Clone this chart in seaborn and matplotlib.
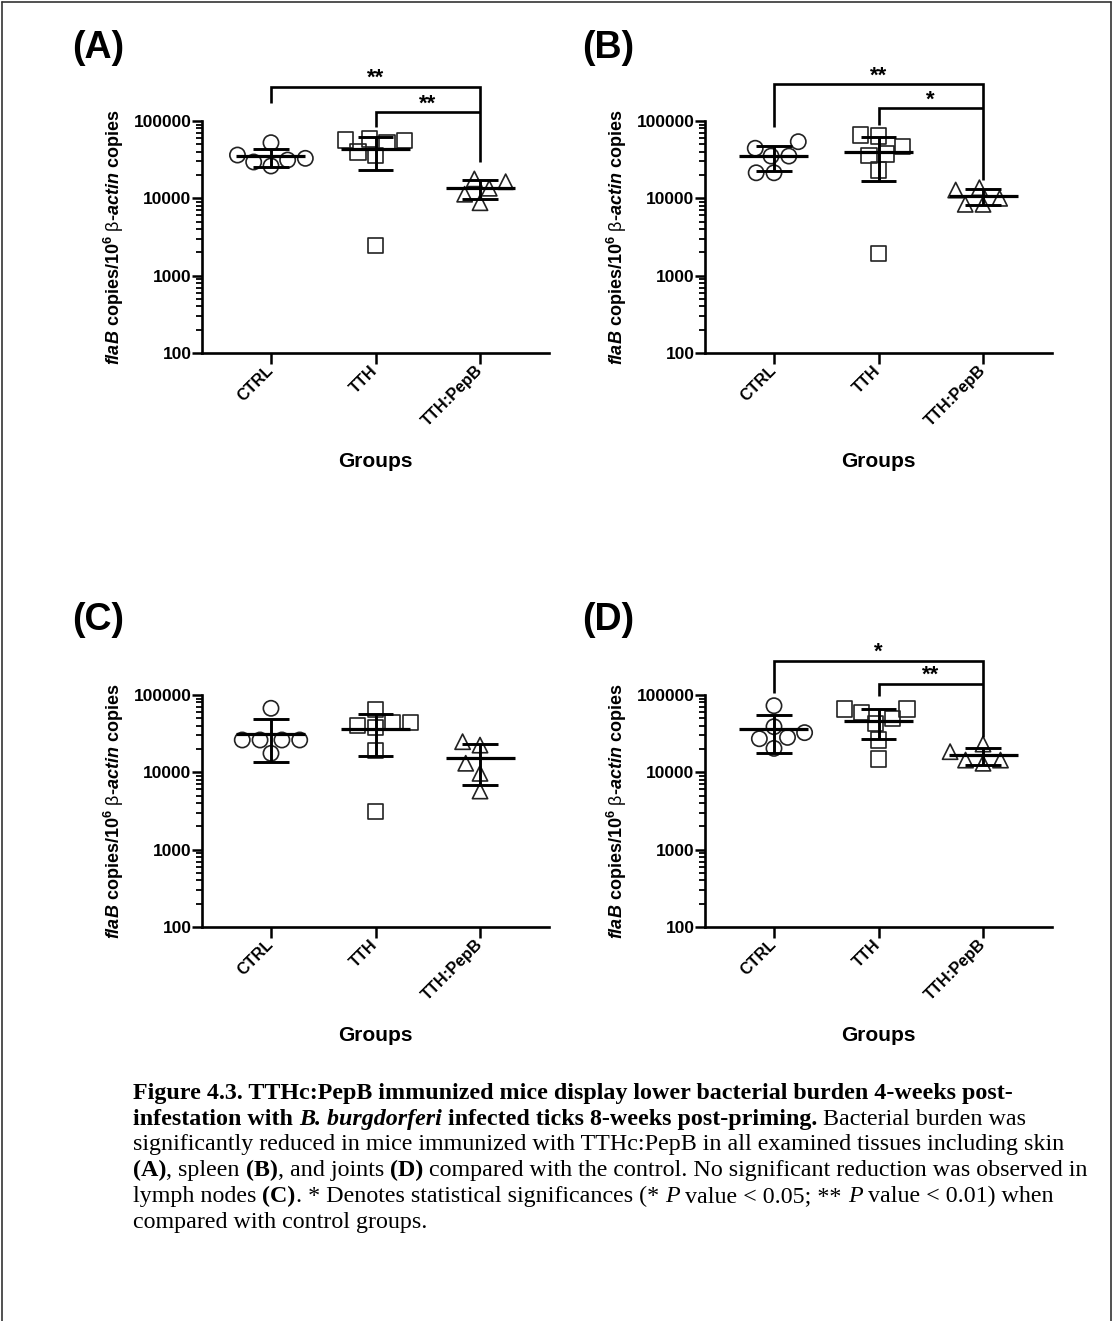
import numpy as np
import pandas as pd
import matplotlib
matplotlib.use("Agg")
import matplotlib.pyplot as plt
import seaborn as sns
from matplotlib.lines import Line2D
from matplotlib.ticker import LogLocator, FixedLocator, FixedFormatter, NullFormatter

# ---------------- data ----------------
groups = ["CTRL", "TTH", "TTH:PepB"]

# Panel A (skin)
a_ctrl = [52400, 36300, 31300, 26200, 29500, 32900]
a_tth = [55600, 58500, 56800, 52400, 39700, 35600, 2440]
a_pepb = [13500, 17800, 16400, 8770, 11300]
# Panel B (spleen)
b_ctrl = [54000, 35200, 44400, 35200, 21400, 21400]
b_tth = [65900, 64000, 46600, 35600, 37400, 23200, 1940]
b_pepb = [13700, 12800, 10000, 8360, 8360]
# Panel C (lymph nodes)
c_ctrl = [67300, 26200, 26200, 26200, 26200, 17600]
c_tth = [65300, 44300, 37800, 40100, 44300, 19000, 3100]
c_pepb = [22500, 24900, 13100, 9700, 5730]
# Panel D (joints)
d_ctrl = [72700, 38900, 28300, 27200, 32600, 20400]
d_tth = [65900, 65900, 59700, 49900, 43000, 26200, 14900]
d_pepb = [23200, 18500, 14400, 13100, 14400]

panel_letters = ["(A)", "(B)", "(C)", "(D)"]
sig_top = ["**", "**", None, "*"]      # CTRL vs TTH:PepB
sig_mid = ["**", "*", None, "**"]      # TTH vs TTH:PepB
y_tick_values = [100, 1000, 10000, 100000]
y_tick_labels = ["100", "1000", "10000", "100000"]
x_label = "Groups"

# ---------------- style ----------------
sns.set_style("ticks")
plt.rcParams["font.family"] = ["Liberation Sans", "DejaVu Sans"]
plt.rcParams["mathtext.fontset"] = "custom"
plt.rcParams["mathtext.it"] = "Liberation Sans:italic:bold"
plt.rcParams["mathtext.rm"] = "Liberation Sans"
plt.rcParams["mathtext.bf"] = "Liberation Sans:bold"
for key in ("text.color", "axes.labelcolor", "xtick.color", "ytick.color",
            "axes.edgecolor"):
    plt.rcParams[key] = "black"

W, H = 1114, 1321
fig = plt.figure(figsize=(W / 100, H / 100), dpi=100)
fig.patch.set_facecolor("white")

markers = ["o", "s", "^"]
ax_w = 347 / W
ax_h = 232 / H
positions = [(202, 353), (705, 353), (202, 927), (705, 927)]
letter_pos = [(72, 48), (582, 48), (72, 620), (582, 620)]
panels = [
    [a_ctrl, a_tth, a_pepb],
    [b_ctrl, b_tth, b_pepb],
    [c_ctrl, c_tth, c_pepb],
    [d_ctrl, d_tth, d_pepb],
]
# bracket geometry (axes-fraction y): top bar, left drop, right drop, mid bar, mid drop
brackets = [
    (1.147, 1.078, 0.823, 1.0375, 0.975),
    (1.158, 0.975, 0.746, 1.055, 0.983),
    None,
    (1.147, 1.007, 0.820, 1.049, 0.996),
]

ylab = (r"$\mathit{flaB}$ copies/$\mathbf{10}^{\mathbf{6}}$ "
        r"$\mathrm{\beta}$-$\mathit{actin}$ copies")

for p, (series, (lx, by)) in enumerate(zip(panels, positions)):
    ax = fig.add_axes([lx / W, 1 - by / H, ax_w, ax_h])
    for i, (vals, m) in enumerate(zip(series, markers)):
        df = pd.DataFrame({"group": [groups[i]] * len(vals), "value": vals})
        sns.swarmplot(data=df, x="group", y="value", order=groups, marker=m,
                      size=11, color="white", edgecolor="#222222", linewidth=1.2,
                      log_scale=True, ax=ax, zorder=2)
    for coll in ax.collections:
        coll.set_facecolor("none")
    # mean +/- SD
    for i, vals in enumerate(series):
        v = np.asarray(vals, dtype=float)
        mu = v.mean()
        sd = v.std(ddof=1)
        ax.hlines(mu, i - 0.33, i + 0.33, color="black", lw=2.3, zorder=3)
        ax.vlines(i, mu - sd, mu + sd, color="black", lw=2.1, zorder=3)
        ax.hlines([mu - sd, mu + sd], i - 0.17, i + 0.17, color="black", lw=2.1, zorder=3)

    ax.set_yscale("log")
    ax.set_ylim(100, 100000)
    ax.set_xlim(-0.66, 2.66)
    ax.yaxis.set_major_locator(FixedLocator(y_tick_values))
    ax.yaxis.set_major_formatter(FixedFormatter(y_tick_labels))
    ax.yaxis.set_minor_locator(LogLocator(base=10, subs=np.arange(2, 10)))
    ax.yaxis.set_minor_formatter(NullFormatter())
    ax.set_xticks([0, 1, 2])
    ax.set_xticklabels(groups, rotation=45, ha="right", va="center",
                       rotation_mode="anchor", fontweight="bold", fontsize=11.8)
    for lab in ax.get_yticklabels():
        lab.set_fontweight("bold")
        lab.set_fontsize(12.5)
    ax.tick_params(axis="both", which="major", direction="out", length=7, width=1.8,
                   color="black", labelcolor="black")
    ax.tick_params(axis="y", which="major", pad=0.5)
    ax.tick_params(axis="y", which="minor", direction="out", length=4, width=1.3,
                   color="black")
    ax.tick_params(axis="x", which="major", length=8, pad=3)
    sns.despine(ax=ax)
    for s in ("left", "bottom"):
        ax.spines[s].set_linewidth(1.9)
        ax.spines[s].set_color("black")
    ax.set_facecolor("none")

    ax.set_xlabel(x_label, fontsize=15, fontweight="bold", color="black")
    ax.xaxis.set_label_coords(0.5, -0.427)
    ax.set_ylabel(ylab, fontsize=13, fontweight="bold", color="black")
    ax.yaxis.set_label_coords(-0.22, 0.5)

    # significance brackets
    br = brackets[p]
    if br is not None:
        tr = ax.get_xaxis_transform()
        top, ldrop, rdrop, mid, mdrop = br
        kw = dict(color="black", lw=1.9, transform=tr, clip_on=False,
                  solid_capstyle="butt", solid_joinstyle="miter")
        ax.plot([0, 0, 2, 2], [ldrop, top, top, rdrop], **kw)
        ax.plot([1, 1, 2], [mdrop, mid, mid], **kw)
        ax.text(1.0, top + 0.012, sig_top[p], transform=tr, ha="center",
                va="baseline", fontsize=16, fontweight="bold", color="black")
        ax.text(1.5, mid + 0.012, sig_mid[p], transform=tr, ha="center",
                va="baseline", fontsize=16, fontweight="bold", color="black")

    fx, fy = letter_pos[p]
    fig.text(fx / W, 1 - fy / H, panel_letters[p], fontsize=27, fontweight="bold",
             ha="left", va="center", color="black")

# ---------------- figure border ----------------
bc = "#333333"
fig.add_artist(Line2D([2 / W, 2 / W], [0, 1 - 2 / H], color=bc, lw=1.2))
fig.add_artist(Line2D([2 / W, 1111 / W], [1 - 2 / H, 1 - 2 / H], color=bc, lw=1.2))
fig.add_artist(Line2D([1111 / W, 1111 / W], [0, 1 - 2 / H], color=bc, lw=1.2))

# ---------------- caption ----------------
renderer = fig.canvas.get_renderer()
cap_size = 17.3
REG = dict(family="Liberation Serif", fontsize=cap_size, color="black")
BOLD = dict(REG, fontweight="bold")
BI = dict(REG, fontweight="bold", style="italic")
IT = dict(REG, style="italic")


def run_width(s, props):
    t1 = fig.text(0, 0, "|" + s + "|", **props)
    w1 = t1.get_window_extent(renderer).width
    t1.remove()
    t2 = fig.text(0, 0, "||", **props)
    w2 = t2.get_window_extent(renderer).width
    t2.remove()
    return w1 - w2


caption_lines = [
    [("Figure 4.3. TTHc:PepB immunized mice display lower bacterial burden 4-weeks post-", BOLD)],
    [("infestation with ", BOLD), ("B. burgdorferi", BI),
     (" infected ticks 8-weeks post-priming.", BOLD), (" Bacterial burden was", REG)],
    [("significantly reduced in mice immunized with TTHc:PepB in all examined tissues including skin", REG)],
    [("(A)", BOLD), (", spleen ", REG), ("(B)", BOLD), (", and joints ", REG), ("(D)", BOLD),
     (" compared with the control. No significant reduction was observed in", REG)],
    [("lymph nodes ", REG), ("(C)", BOLD), (". * Denotes statistical significances (* ", REG),
     ("P", IT), (" value < 0.05; ** ", REG), ("P", IT), (" value < 0.01) when", REG)],
    [("compared with control groups.", REG)],
]
baselines = [1099, 1125, 1150, 1176, 1202, 1228]
for line, yb in zip(caption_lines, baselines):
    x = 133.0
    for s, props in line:
        fig.text(x / W, 1 - yb / H, s, ha="left", va="baseline", **props)
        x += run_width(s, props)

fig.savefig("out.png", dpi=100, facecolor="white")
